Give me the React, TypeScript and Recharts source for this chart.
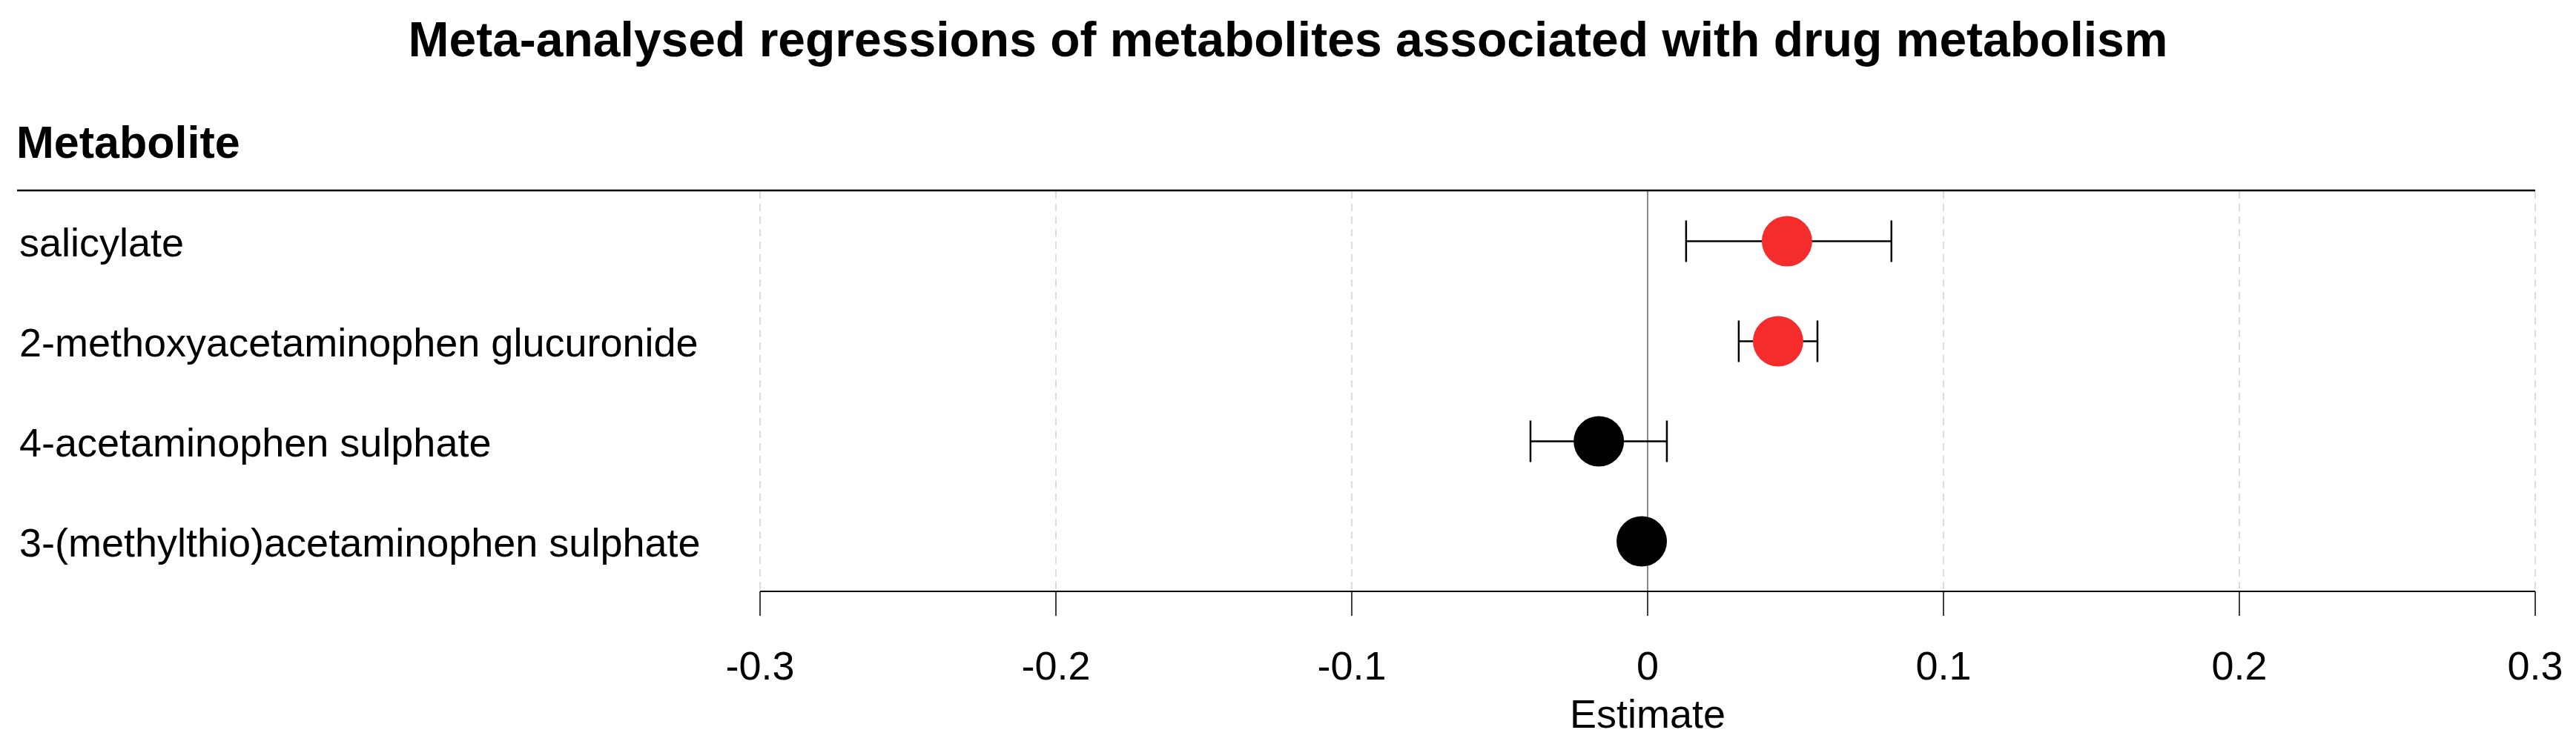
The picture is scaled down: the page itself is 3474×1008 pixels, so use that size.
import {
  ScatterChart,
  Scatter,
  XAxis,
  YAxis,
  CartesianGrid,
  ReferenceLine,
  ErrorBar
} from 'recharts';

const metabolites = [
  'salicylate',
  '2-methoxyacetaminophen glucuronide',
  '4-acetaminophen sulphate',
  '3-(methylthio)acetaminophen sulphate'
];
const estimates = [0.0471, 0.0441, -0.0165, -0.002];
const lowerCI = [0.013, 0.0308, -0.0396, -0.0055];
const upperCI = [0.0824, 0.0574, 0.0065, 0.0015];
const xTicks = [-0.3, -0.2, -0.1, 0, 0.1, 0.2, 0.3];

const FONT = '"Liberation Sans", Arial, Helvetica, sans-serif';
const W = 3474;
const H = 1008;

// rows counted from the bottom so the first metabolite sits on top
const n = metabolites.length;
const data = metabolites.map((name, i) => ({
  name,
  row: n - i - 0.5,
  est: estimates[i],
  err: [estimates[i] - lowerCI[i], upperCI[i] - estimates[i]],
  sig: lowerCI[i] > 0 || upperCI[i] < 0
}));
const rowTicks = data.map((d) => d.row);

const RowLabel = (props: any) => {
  const { y, payload } = props;
  const d = data.find((r) => r.row === payload.value);
  return (
    <text x={26} y={y + 20} fontSize={54} fontFamily={FONT} fill="#000" textAnchor="start">
      {d ? d.name : ''}
    </text>
  );
};

const Dot = (props: any) => (
  <circle cx={props.cx} cy={props.cy} r={34} fill={props.payload.sig ? '#F52C2C' : '#000'} />
);

const NoDot = () => <g />;

export default function App() {
  return (
    <div style={{ position: 'absolute', left: 0, top: 0, width: W, height: H, background: '#fff', fontFamily: FONT }}>
      <ScatterChart
        width={W}
        height={H}
        margin={{ top: 258, right: 55, bottom: 0, left: 0 }}
      >
        <CartesianGrid
          horizontal={false}
          stroke="#DDDDDD"
          strokeWidth={2}
          strokeDasharray="10 7"
        />
        <XAxis
          type="number"
          dataKey="est"
          domain={[-0.3, 0.3]}
          ticks={xTicks}
          height={210}
          axisLine={{ stroke: '#000', strokeWidth: 2 }}
          tickLine={{ stroke: '#000', strokeWidth: 1.5 }}
          tickSize={33}
          tickMargin={48}
          tick={{ fill: '#000', fontSize: 54, fontFamily: FONT }}
          label={{ value: 'Estimate', position: 'insideBottom', offset: 26, fill: '#000', fontSize: 54, fontFamily: FONT }}
        />
        <YAxis
          type="number"
          dataKey="row"
          domain={[0, n]}
          ticks={rowTicks}
          width={1025}
          axisLine={false}
          tickLine={false}
          tick={<RowLabel />}
        />
        <ReferenceLine x={0} stroke="#888888" strokeWidth={2} />
        {/* whiskers first so the points sit on top of them */}
        <Scatter data={data} shape={<NoDot />} isAnimationActive={false}>
          <ErrorBar dataKey="err" direction="x" width={28} strokeWidth={2.5} stroke="#000" />
        </Scatter>
        <Scatter data={data} shape={<Dot />} isAnimationActive={false} />
      </ScatterChart>
      <svg width={W} height={H} style={{ position: 'absolute', left: 0, top: 0, pointerEvents: 'none' }}>
        <text x={1737} y={76} textAnchor="middle" fontSize={66} fontWeight="bold" fontFamily={FONT} fill="#000">
          Meta-analysed regressions of metabolites associated with drug metabolism
        </text>
        <text x={22} y={213} fontSize={61} fontWeight="bold" fontFamily={FONT} fill="#000">
          Metabolite
        </text>
        <line x1={23} x2={3419} y1={257} y2={257} stroke="#000" strokeWidth={2.5} />
      </svg>
    </div>
  );
}
